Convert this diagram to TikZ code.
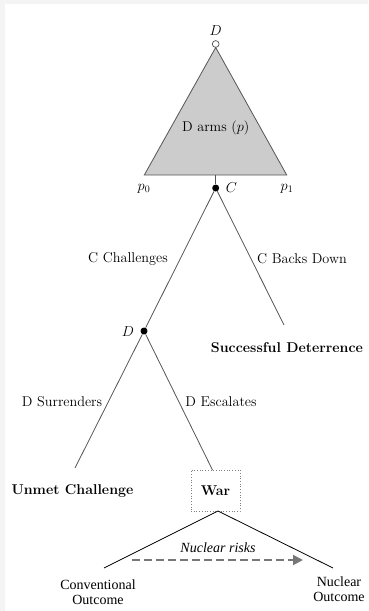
\documentclass[tikz,border=0pt]{standalone}
\usepackage{fontspec}
\newfontfamily\timesf[Ligatures=TeX]{Liberation Serif}
\usetikzlibrary{arrows.meta}
\definecolor{edgegray}{HTML}{555555}
\definecolor{fillgray}{HTML}{CCCCCC}
\definecolor{arrowgray}{HTML}{777777}
\definecolor{framegray}{HTML}{F4F4F4}
\begin{document}
\begin{tikzpicture}[x=1pt,y=-1pt,
  lbl/.style={inner sep=0pt,font=\fontsize{14.2}{17}\selectfont},
  outcome/.style={inner sep=0pt,font=\fontsize{14.2}{17}\selectfont\bfseries},
  tlbl/.style={inner sep=0pt,align=center,font=\timesf\fontsize{14}{15}\selectfont},
  branch/.style={draw=edgegray,line width=0.8pt},
  lowbranch/.style={draw=black,line width=0.8pt},
  opennode/.style={circle,draw=edgegray,fill=white,line width=0.7pt,minimum size=6.8pt,inner sep=0pt},
  solidnode/.style={circle,fill=black,minimum size=7pt,inner sep=0pt},
  warbox/.style={draw=gray,dotted,line width=0.7pt,minimum width=49pt,minimum height=41pt,inner sep=0pt,font=\fontsize{14.2}{17}\selectfont\bfseries}
]
\useasboundingbox (0,0) rectangle (368,611);
% light frame strips along the top and left edges
\fill[framegray] (0,0) rectangle (368,4);
\fill[framegray] (0,0) rectangle (5,611);

% nature / arming stage
\node[opennode] (root) at (215.7,44) {};
\node[lbl] at (215.7,30.7) {$D$};
\coordinate (apex) at (215.7,47.5);
\coordinate (baseL) at (144.3,175);
\coordinate (baseR) at (286.7,175);
\coordinate (baseM) at (215.7,175);
\filldraw[fill=fillgray,draw=edgegray,line width=0.8pt] (apex) -- (baseL) -- (baseR) -- cycle;
\node[lbl] at (215.7,128) {D arms ($p$)};
\node[lbl] (p0) at (144,189) {$p_0$};
\node[lbl] (p1) at (287,189) {$p_1$};

% challenger's decision
\node[solidnode] (C) at (215.7,188) {};
\node[lbl] at (231.5,188) {$C$};
\draw[branch] (baseM) -- (C);
\node[solidnode] (Dn) at (144,331) {};
\node[lbl] at (128,332) {$D$};
\coordinate (bdEnd) at (284,325);
\draw[branch] (C) -- (Dn);
\draw[branch] (C) -- (bdEnd);
\node[lbl] at (128,259) {C Challenges};
\node[lbl] at (302,259) {C Backs Down};
\node[outcome] (succ) at (287,348) {Successful Deterrence};

% defender's response
\coordinate (surEnd) at (75,468);
\node[warbox] (war) at (215.5,490.5) {War};
\coordinate (escEnd) at (212.5,470);
\draw[branch] (Dn) -- (surEnd);
\draw[branch] (Dn) -- (escEnd);
\node[lbl] at (62,402) {D Surrenders};
\node[lbl] at (221,402) {D Escalates};
\node[outcome] (unmet) at (72.5,491) {Unmet Challenge};

% war outcomes
\coordinate (warTip) at (218,511);
\coordinate (convEnd) at (104,568);
\coordinate (nucEnd) at (333,568);
\draw[lowbranch] (convEnd) -- (warTip) -- (nucEnd);
\node[inner sep=0pt,font=\timesf\itshape\fontsize{14}{15}\selectfont] (risk) at (218,548) {Nuclear risks};
\coordinate (arrS) at (132,560);
\coordinate (arrE) at (303,560);
\draw[arrowgray,line width=2pt,dash pattern=on 8pt off 4pt,-{Triangle[length=10pt,width=10pt]}] (arrS) -- (arrE);
\node[tlbl] (conv) at (98,592.5) {Conventional\\Outcome};
\node[tlbl] (nuc) at (339,589.5) {Nuclear\\Outcome};
\end{tikzpicture}
\end{document}
